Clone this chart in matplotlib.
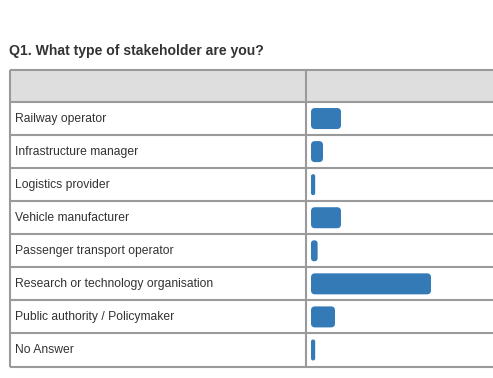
import matplotlib
matplotlib.use("Agg")
import matplotlib.pyplot as plt
from matplotlib.patches import FancyBboxPatch, Rectangle

title = "Q1. What type of stakeholder are you?"
categories = [
    "Railway operator",
    "Infrastructure manager",
    "Logistics provider",
    "Vehicle manufacturer",
    "Passenger transport operator",
    "Research or technology organisation",
    "Public authority / Policymaker",
    "No Answer",
]
counts = [5, 2, 0.7, 5, 1.1, 20, 4, 0.7]

W, H = 493, 378
fig = plt.figure(figsize=(W / 100, H / 100), dpi=100)
fig.patch.set_facecolor("white")

# background / table layout in pixel coordinates
ax0 = fig.add_axes([0, 0, 1, 1])
ax0.set_xlim(0, W)
ax0.set_ylim(H, 0)
ax0.axis("off")

grid_col = "#9a9a9a"
lw = 1.5
left, divider, right = 9.5, 306, W + 5
header_top, first_row = 70, 102
row_h = (366.5 - first_row) / len(categories)

ax0.add_patch(Rectangle((left, header_top), right - left, first_row - header_top,
                        facecolor="#dedede", edgecolor="none", zorder=0))
ax0.text(left - 0.5, 51, title, fontsize=10.1, fontweight="bold",
         family=["Liberation Sans", "DejaVu Sans"], color="#333333",
         va="center", ha="left")

ys = [header_top, first_row] + [first_row + row_h * (i + 1) for i in range(len(categories))]
for y in ys:
    ax0.plot([left, right], [y, y], color=grid_col, lw=lw, solid_capstyle="butt", zorder=2)
for x in (left, divider):
    ax0.plot([x, x], [header_top, ys[-1]], color=grid_col, lw=lw, solid_capstyle="butt", zorder=2)

for i, cat in enumerate(categories):
    yc = first_row + row_h * (i + 0.5)
    ax0.text(15, yc, cat, fontsize=8.7, family=["Liberation Sans", "DejaVu Sans"],
             color="#333333", va="center", ha="left")

# bar axes over the bar column
bar_left_px = 311
px_per_unit = 6.0
ax = fig.add_axes([bar_left_px / W, (H - ys[-1]) / H,
                   (W - bar_left_px) / W, (ys[-1] - first_row) / H])
ax.set_xlim(0, (W - bar_left_px) / px_per_unit)
ax.set_ylim(len(categories) - 0.5, -0.5)
ax.axis("off")
ax.patch.set_alpha(0)

bar_h = 21 / row_h
aspect = px_per_unit / row_h
r_px = 4.0
for i, v in enumerate(counts):
    r = min(r_px / px_per_unit, v / 2)
    p = FancyBboxPatch((0, i - bar_h / 2), v, bar_h,
                       boxstyle=f"round,pad=0,rounding_size={r}",
                       mutation_aspect=aspect,
                       facecolor="#337ab7", edgecolor="none")
    ax.add_patch(p)

fig.savefig("out.png", dpi=100, facecolor="white")
